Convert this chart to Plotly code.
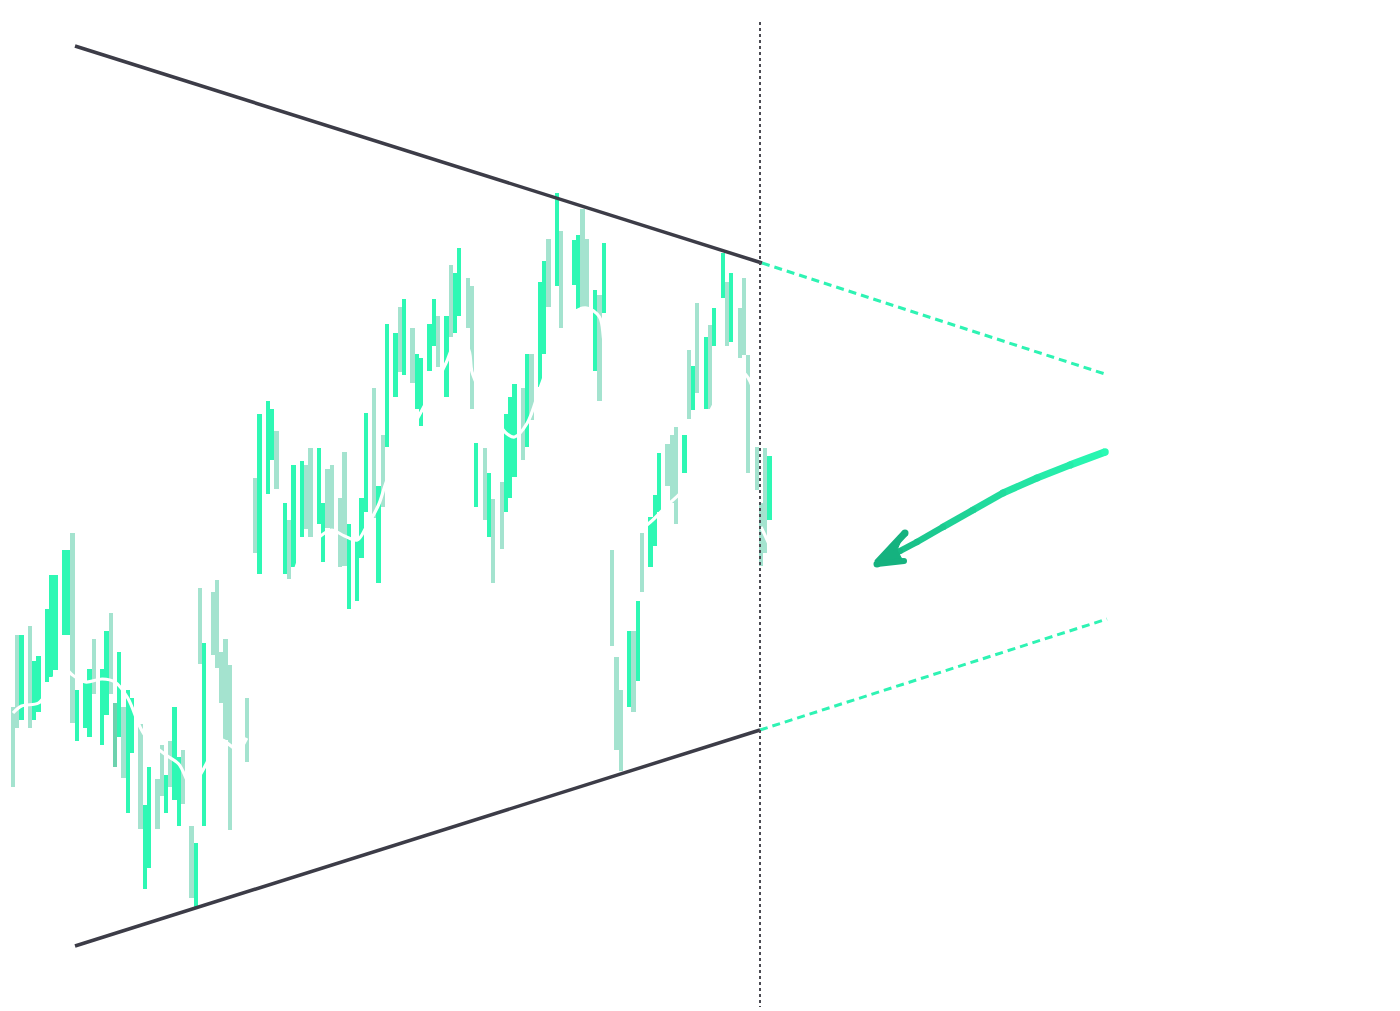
import numpy as np
import plotly.graph_objects as go

# ---- bar data: trading-day slot, top level, bottom level, tone (g=bright, p=pale, d=dark)
slots = [0, 1, 2, 4, 5, 6, 8, 9, 10, 12, 13, 14, 15, 17, 18, 19, 21, 22, 23, 24,
         25, 26, 27, 28, 30, 31, 32, 34, 35, 36, 37, 38, 39, 40, 42, 43, 44, 45, 47, 48, 49, 50, 51, 55,
         57, 58, 60, 61, 62, 64, 65, 66, 68, 69, 70, 72, 73, 74, 75,
         77, 78, 79, 81, 82, 83, 85, 86, 87, 88, 90, 91, 92, 94, 95, 96, 98, 99, 100, 102,
         103, 104, 105, 107, 108, 109, 111, 112, 113, 115, 116, 117, 118, 120, 121, 122, 124, 125, 126,
         128, 129, 132, 133, 134, 135, 137, 138, 139,
         141, 142, 143, 145, 146, 147, 148, 150, 151, 152, 154, 155, 156, 158, 159, 160, 161,
         163, 164, 165, 167, 168, 169, 171, 172, 173, 175, 176, 177, 178]
tops = [707, 635, 635, 626, 661, 656, 609, 575, 575, 550, 550, 533, 690, 681, 669, 639, 669, 631, 613, 703,
        652, 707, 690, 698, 724, 805, 767, 779, 745, 775, 741, 707, 757, 750, 826, 843, 588, 643, 592, 580, 652, 639, 665, 698,
        478, 414, 401, 409, 431, 503, 520, 465, 461, 465, 448, 448, 503, 469, 465,
        498, 452, 524, 541, 498, 413, 388, 486, 435, 324, 333, 307, 299, 328, 354, 358, 324, 299, 316, 316,
        265, 273, 248, 278, 286, 443, 448, 473, 499, 482, 414, 397, 384, 388, 354, 354, 282, 261, 239,
        193, 231, 240, 235, 209, 239, 290, 295, 243,
        550, 657, 690, 631, 631, 601, 533, 517, 495, 453, 444, 435, 427, 435, 350, 366, 303,
        337, 325, 308, 253, 282, 273, 308, 278, 355, 447, 503, 448, 456]
bottoms = [787, 728, 720, 728, 720, 712, 682, 677, 670, 635, 635, 723, 741, 728, 737, 694, 745, 715, 694, 767,
           737, 778, 813, 753, 829, 889, 868, 829, 796, 813, 787, 800, 826, 804, 898, 907, 664, 826, 655, 668, 703, 740, 830, 762,
           553, 574, 494, 460, 489, 574, 579, 567, 537, 529, 537, 524, 562, 528, 529,
           567, 566, 609, 601, 558, 512, 518, 583, 507, 447, 397, 372, 375, 383, 409, 426, 371, 346, 367, 397,
           337, 333, 316, 328, 409, 507, 520, 537, 583, 549, 512, 498, 477, 460, 447, 420, 387, 354, 307,
           286, 328, 285, 310, 307, 307, 371, 401, 313,
           646, 750, 771, 707, 712, 681, 592, 567, 546, 512, 486, 503, 524, 473, 419, 410, 393,
           409, 409, 346, 298, 346, 342, 358, 355, 473, 490, 566, 553, 520]
tones = list("ppgpgggggggpgggpggpd"
             "gpggpggppgpggppgpgppppp"
             "ppgggpgpggppggp"
             "pppggggpgpggpgpggggp"
             "gpggppgpgppgggpgpggp"
             "gpggppgpg"
             "pppgpgpgggpppgpgpg"
             "pggpgppppppgp")

# moving-average line (slot, level); None separates segments
ma_slot = [0, 2, 6, 8, 10, 12, 14, 17, 21, 24, 27, 30, 32, 36, 39, 42, 44, 47, 49, 51, 53, 55, None,
           65, 68, 70, 73, 75, 78, 81, 83, 86, 88, 91, 94, 96, 99, 102, 104, 107, 108, 110, 113, 116, 118,
           121, 124, 126, 129, 132, 135, 138, 139, 140, None,
           146, 150, 154, 158, 160, 164, 168, 171, 173, 175, None, 176, 178]
ma_val = [713, 706, 703, 692, 675, 668, 675, 682, 679, 682, 698, 728, 741, 755, 764, 786, 775, 752, 740, 745, 750, 738, None,
          592, 553, 545, 534, 530, 536, 540, 528, 505, 480, 455, 428, 412, 388, 362, 345, 348, 372, 392, 415, 433, 437,
          423, 388, 366, 340, 313, 308, 317, 340, 365, None,
          535, 522, 505, 488, 462, 412, 385, 370, 378, 400, None, 527, 545]

# overlay drawing guides (canvas units)
upper_trend_x = [75, 762]
upper_trend_y = [46, 263]
lower_trend_x = [75, 760]
lower_trend_y = [946, 730]
upper_ext_x = [762, 1105]
upper_ext_y = [263, 374]
lower_ext_x = [760, 1107]
lower_ext_y = [730, 619]
now_line_x = [760, 760]
now_line_y = [22, 1007]
arrow_x = [1105, 1070, 1037, 1003, 973, 943, 917, 900, 884]
arrow_y = [452, 465, 478, 493, 510, 527, 542, 551, 559]
barb_up_x = [877, 905]
barb_up_y = [563, 533]
barb_low_x = [877, 904]
barb_low_y = [564, 561]
head_x = [875, 903, 897, 903, 875]
head_y = [565, 536, 550, 561, 565]

colors = {"g": "#2ef8b4", "p": "#a4e3cf", "d": "#6dd2ae"}

fig = go.Figure()
fig.add_trace(go.Bar(
    x=slots, base=tops, y=[b - t for t, b in zip(tops, bottoms)],
    width=0.97, marker=dict(color=[colors[c] for c in tones], line=dict(width=0)),
    hoverinfo="skip", showlegend=False))
fig.add_trace(go.Scatter(x=ma_slot, y=ma_val, mode="lines",
                         line=dict(color="white", width=3.2, shape="spline", smoothing=1.0),
                         connectgaps=False, hoverinfo="skip", showlegend=False))

def guide(x, y, color, width, dash="solid", **kw):
    fig.add_trace(go.Scatter(x=x, y=y, mode="lines", xaxis="x2",
                             line=dict(color=color, width=width, dash=dash),
                             hoverinfo="skip", showlegend=False, **kw))

def dot(x, y, color, size):
    fig.add_trace(go.Scatter(x=[x], y=[y], mode="markers", xaxis="x2",
                             marker=dict(color=color, size=size, line=dict(width=0)),
                             hoverinfo="skip", showlegend=False))

guide(upper_ext_x, upper_ext_y, "#2ef3b3", 3, "8px,5px")
guide(lower_ext_x, lower_ext_y, "#2ef3b3", 3, "8px,5px")
guide(upper_trend_x, upper_trend_y, "#3c3c47", 3.5)
guide(lower_trend_x, lower_trend_y, "#3c3c47", 3.5)
guide(now_line_x, now_line_y, "#4a4a52", 2, "3px,3px")

# arrow shaft with colour gradient
c0 = np.array([42, 250, 180])
c1 = np.array([22, 180, 128])
n = len(arrow_x) - 1
for k in range(n):
    t = (k + 0.5) / n
    c = (c0 * (1 - t) + c1 * t).astype(int)
    w = 7.5 - 1.5 * t
    guide(arrow_x[k:k + 2], arrow_y[k:k + 2], f"rgb({c[0]},{c[1]},{c[2]})", w)
    if k > 0:
        dot(arrow_x[k], arrow_y[k], f"rgb({c[0]},{c[1]},{c[2]})", w)
dot(arrow_x[0], arrow_y[0], "rgb(42,250,180)", 7.5)

head_col = "#15b27f"
fig.add_trace(go.Scatter(x=head_x, y=head_y, mode="lines", xaxis="x2", fill="toself",
                         fillcolor=head_col, line=dict(color=head_col, width=1),
                         hoverinfo="skip", showlegend=False))
guide(barb_up_x, barb_up_y, head_col, 7)
guide(barb_low_x, barb_low_y, head_col, 6)
dot(barb_up_x[1], barb_up_y[1], head_col, 7)
dot(barb_low_x[1], barb_low_y[1], head_col, 6)
dot(877, 564, head_col, 7)

slot_px = 4.25
first_px = 13
fig.update_layout(
    width=1400, height=1011, margin=dict(l=0, r=0, t=0, b=0),
    paper_bgcolor="white", plot_bgcolor="white", bargap=0,
    xaxis=dict(range=[-first_px / slot_px, (1400 - first_px) / slot_px], visible=False, fixedrange=True),
    xaxis2=dict(range=[0, 1400], overlaying="x", visible=False, fixedrange=True),
    yaxis=dict(range=[1011, 0], visible=False, fixedrange=True),
)
fig.write_html("out.html", config={"displayModeBar": False},
               post_script="document.body.style.margin='0';document.body.style.overflow='hidden';")
